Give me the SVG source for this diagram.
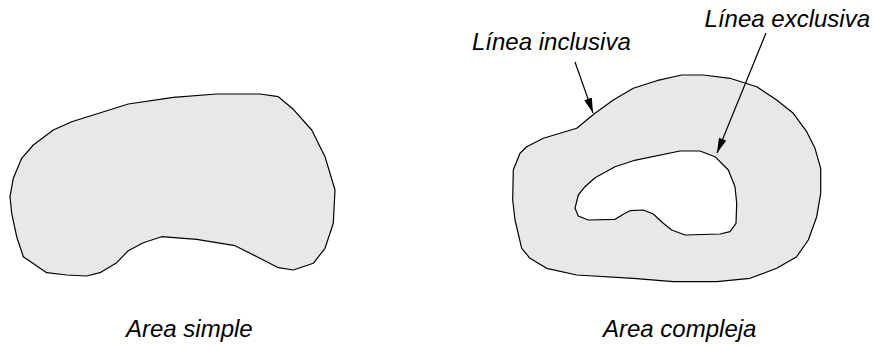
<svg xmlns="http://www.w3.org/2000/svg" width="874" height="345" viewBox="0 0 874 345">
<style>
.area{fill:#e8e8e8;stroke:#000;stroke-width:1.2;stroke-linejoin:round}
.lbl{font-family:"Liberation Sans",Arial,sans-serif;font-style:italic;font-size:24px;fill:#000}
.conn{stroke:#000;stroke-width:1.2;fill:none}
</style>
<defs>
<marker id="ah" markerWidth="15" markerHeight="8" refX="15" refY="4" orient="auto" markerUnits="userSpaceOnUse">
<path d="M0,0 L15,4 L0,8 Z" fill="#000"/>
</marker>
</defs>
<rect width="874" height="345" fill="#fff"/>
<g id="area-simple">
<polygon class="area" points="86.7,276 100,272.7 116.7,262.7 128.3,250.7 143.3,242.7 161.7,236.7 196.7,239.3 235,245.7 260,258.3 278.3,267.7 293.3,270 313.3,263.3 325,248.3 333.3,223.3 335,190 325,156.7 311.7,130 293.3,109.3 278.3,96.7 260,94 216.7,94 173.3,97.3 128.3,104 71.7,121.7 53.3,130 33.3,145 21.7,158.3 13.3,178.3 10,196.7 11.7,213.3 16.7,236.7 23.3,256.7 46.7,272.7 66.7,275"/>
</g>
<g id="area-compleja">
<path class="area" fill-rule="evenodd" d="M576.7,128.3 L595,113.3 L613.3,100 L633.3,88.3 L656.7,80.7 L681.7,75 L703.3,75 L730,78.3 L756.7,86.7 L776.7,100 L793.3,113.3 L806.7,131.7 L815,148.3 L820.7,168.3 L820.7,193.3 L816.7,216.7 L808.3,240 L796.7,256.7 L776.7,268.3 L750,278.3 L716.7,281.7 L673.3,281.7 L633.3,278.3 L576.7,275 L546.7,268.3 L530,258.3 L521.7,248.3 L515,220 L512.7,200 L513.3,170 L520,153.3 L526.7,146.7 L543.3,138.3 Z M680,151 L700,151 L715,156.7 L728.3,170 L735,186.7 L736.7,203.3 L736,223.3 L730,231.7 L720,234 L685,235 L671.7,230 L663.3,223.3 L653.3,214 L643.3,210 L630,210.7 L625,213.3 L615,219.3 L588.3,220 L578.3,216 L575,208.3 L578.3,195 L585,186.7 L595,177.7 L615,166.7 L633.3,160.7 Z"/>
</g>
<g id="connectors">
<line class="conn" x1="575" y1="62" x2="593" y2="113" marker-end="url(#ah)"/>
<line class="conn" x1="766" y1="33" x2="717" y2="153" marker-end="url(#ah)"/>
</g>
<g id="labels">
<text class="lbl" x="472" y="50">Línea inclusiva</text>
<text class="lbl" x="870" y="27" text-anchor="end">Línea exclusiva</text>
<text class="lbl" x="126" y="337">Area simple</text>
<text class="lbl" x="603" y="337">Area compleja</text>
</g>
</svg>
